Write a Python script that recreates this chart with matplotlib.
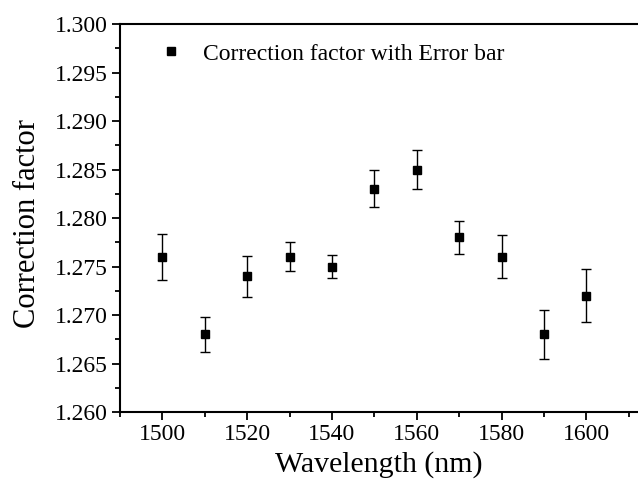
import matplotlib

matplotlib.use("Agg")

import matplotlib.pyplot as plt
from matplotlib.ticker import FormatStrFormatter, MultipleLocator

wavelength = [1500, 1510, 1520, 1530, 1540, 1550, 1560, 1570, 1580, 1590, 1600]
correction = [1.276, 1.268, 1.274, 1.276, 1.275, 1.283, 1.285, 1.278, 1.276, 1.268, 1.272]
error = [0.0024, 0.0018, 0.0021, 0.0015, 0.0012, 0.0019, 0.0020, 0.0017, 0.0022, 0.0025, 0.0027]

plt.rcParams["font.family"] = ["Liberation Serif", "DejaVu Serif"]

fig = plt.figure(figsize=(6.38, 4.83), dpi=100)
axis = fig.add_axes([120 / 638, 1 - 412 / 483, 1 - 120 / 638, (412 - 24) / 483])

axis.errorbar(
    wavelength,
    correction,
    yerr=error,
    fmt="s",
    color="black",
    markersize=5.5,
    ecolor="black",
    elinewidth=1.0,
    capsize=3.5,
    capthick=1.0,
    label="Correction factor with Error bar",
)

axis.set_xlim(1490, 1612.2)
axis.set_ylim(1.260, 1.300)
axis.xaxis.set_major_locator(MultipleLocator(20))
axis.xaxis.set_minor_locator(MultipleLocator(10))
axis.yaxis.set_major_locator(MultipleLocator(0.005))
axis.yaxis.set_minor_locator(MultipleLocator(0.0025))
axis.yaxis.set_major_formatter(FormatStrFormatter("%.3f"))

axis.spines["right"].set_visible(False)
for side in ("left", "bottom", "top"):
    axis.spines[side].set_linewidth(1.5)
axis.tick_params(which="both", direction="out", width=1.3, labelsize=17, top=False, right=False, pad=3)
axis.tick_params(which="major", length=6)
axis.tick_params(which="minor", length=3.5)

axis.set_xlabel("Wavelength (nm)", fontsize=21.5, labelpad=4)
axis.set_ylabel("Correction factor", fontsize=22, labelpad=9)
axis.yaxis.label.set_y(0.485)

handles, labels = axis.get_legend_handles_labels()
legend = axis.legend(
    [handles[0][0]],
    labels,
    loc="upper left",
    frameon=False,
    fontsize=17,
    handlelength=1.0,
    handletextpad=0.85,
    borderaxespad=0,
    borderpad=0,
    bbox_to_anchor=(39 / 518, 0.951),
)

fig.savefig("out.png", dpi=100)
